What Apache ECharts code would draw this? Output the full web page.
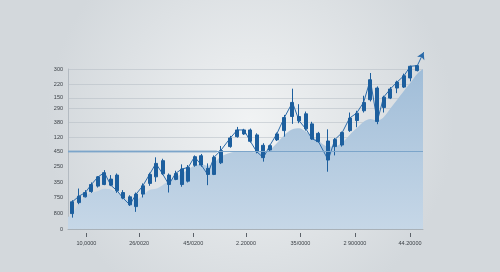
<!DOCTYPE html>
<html>
<head>
<meta charset="utf-8">
<script src="https://cdn.jsdelivr.net/npm/echarts@6/dist/echarts.min.js"></script>
<style>
html,body{margin:0;padding:0;}
#chart{width:500px;height:272px;}
</style>
</head>
<body>
<div id="chart"></div>
<script>
// ---- data ----
const candleDay = [0.64,1.61,2.54,3.42,4.40,5.33,6.26,7.19,8.07,9.05,9.98,10.96,11.94,12.87,13.85,14.77,15.75,16.68,17.61,18.54,19.52,20.45,21.38,22.36,23.78,24.80,25.78,26.71,27.64,28.62,29.55,30.58,31.70,32.88,33.86,34.83,35.76,36.69,38.11,39.09,40.17,41.24,42.27,43.30,44.28,45.30,46.23,47.21,48.19,49.22,50.15,51.17];
const openVals  = [96,165,201,234,268,278,312,337,228,201,140,218,285,326,427,337,310,278,299,398,458,379,341,414,515,577,594,619,588,523,494,557,615,703,703,720,657,598,550,515,525,615,678,739,808,881,759,818,881,887,944,990];
const closeVals = [170,205,228,278,326,352,274,239,193,151,218,270,341,410,345,278,347,375,385,452,400,341,448,490,569,619,619,548,483,446,521,594,697,791,676,626,563,546,431,559,603,693,724,791,933,672,824,875,918,958,1017,1021];
const lowVals   = [71,155,197,226,259,274,268,226,186,144,107,197,270,295,337,228,305,264,291,389,389,274,337,406,508,571,588,540,473,421,487,550,577,657,661,615,557,540,358,460,515,607,636,728,797,655,728,812,849,881,923,985];
const highVals  = [180,253,243,291,331,368,337,347,243,211,228,285,352,448,439,347,364,404,400,460,469,410,460,519,582,638,626,628,598,536,527,603,713,877,780,734,670,607,623,569,609,728,739,833,975,891,833,887,927,971,1021,1025];

const areaDay  = [0,0.64,1.61,2.54,3.42,4.40,5.33,6.26,7.19,8.07,9.05,9.98,10.96,11.94,12.87,13.85,14.77,15.75,16.68,17.61,18.54,19.52,20.45,21.38,22.36,23.78,24.80,25.78,26.71,27.64,28.62,29.55,30.58,31.70,32.88,33.86,34.83,35.76,36.69,38.11,39.09,40.17,41.24,42.27,43.30,44.28,45.30,46.23,47.21,48.19,49.22,50.15,51.17,52];
const areaVals = [75,96,163,205,226,238,251,247,230,201,176,180,211,243,251,274,301,322,347,374,397,406,395,414,452,477,483,483,481,479,479,494,536,588,623,630,609,577,552,515,515,540,588,630,671,688,678,699,753,807,864,914,971,1000];

const arrowDay = 52.1;
const arrowValue = 1105;

const refLineValue = 487;
const refBandEndDay = 21.8;

const yTickValues = [0,94,195,293,391,487,571,665,753,820,906,1000];
const yTickLabels = ['0','800','750','350','250','450','120','380','290','150','220','300'];

const xTickValues = [2.69,10.42,18.35,26.08,34.05,42.03,50.10];
const xTickLabels = ['10,0000','26/0020','45/0200','2.20000','35/0000','2 900000','44.20000'];

// ---- chart ----
const candleData = candleDay.map((d, i) => [d, openVals[i], closeVals[i], lowVals[i], highVals[i]]);
const areaData = areaDay.map((d, i) => [d, areaVals[i]]);
const lineData = candleDay.map((d, i) => [d, closeVals[i]]);
lineData.push({ value: [arrowDay, arrowValue], symbol: 'arrow', symbolSize: [6, 7], symbolRotate: -25 });

// split lines only above the reference line (lower ones sit under the area)
const splitColors = yTickValues.map(v => v > refLineValue ? 'rgba(178,186,194,0.5)' : 'rgba(0,0,0,0)');

const blue = '#1d5f9e';
const chart = echarts.init(document.getElementById('chart'), null, { renderer: 'canvas' });
chart.setOption({
  animation: false,
  backgroundColor: {
    type: 'radial', x: 0.5, y: 0.45, r: 0.75,
    colorStops: [{ offset: 0, color: '#f1f3f4' }, { offset: 1, color: '#d3d8dc' }]
  },
  grid: { left: 68, right: 77, top: 69, bottom: 43, containLabel: false, outerBoundsMode: 'none' },
  xAxis: [{
    type: 'value', min: 0, max: 52, position: 'bottom',
    axisLine: { show: true, lineStyle: { color: '#a9b1b8', width: 1 } },
    axisTick: { show: false },
    axisLabel: { show: false },
    splitLine: { show: false }
  }, {
    type: 'value', min: 0, max: 52, position: 'bottom', offset: 4,
    axisLine: { show: false },
    axisTick: { show: true, length: 4, customValues: xTickValues, lineStyle: { color: '#5b6168', width: 1 } },
    axisLabel: {
      show: true, customValues: xTickValues, margin: 7,
      fontSize: 5.5, color: '#3b4046', fontFamily: 'Liberation Sans',
      formatter: v => { const k = xTickValues.indexOf(v); return k >= 0 ? xTickLabels[k] : ''; }
    },
    splitLine: { show: false }
  }],
  yAxis: {
    type: 'value', min: 0, max: 1000,
    axisLine: { show: true, lineStyle: { color: '#b3bac1', width: 1 } },
    axisTick: { show: false, customValues: yTickValues },
    axisLabel: {
      show: true, customValues: yTickValues, margin: 5,
      fontSize: 5.5, color: '#3b4046', fontFamily: 'Liberation Sans',
      formatter: v => { const k = yTickValues.indexOf(v); return k >= 0 ? yTickLabels[k] : ''; }
    },
    splitLine: { show: true, lineStyle: { color: splitColors, width: 1 } }
  },
  series: [{
    type: 'line', xAxisIndex: 0, data: areaData, smooth: 0.3, symbol: 'none', z: 1,
    lineStyle: { width: 0 },
    areaStyle: {
      opacity: 1,
      color: { type: 'linear', x: 0, y: 0, x2: 0, y2: 1,
        colorStops: [{ offset: 0, color: '#a0bdd8' }, { offset: 1, color: '#c6d7e7' }] }
    },
    markLine: {
      silent: true, symbol: ['none', 'none'], label: { show: false },
      lineStyle: { color: '#7ca5ca', width: 1.1, type: 'solid' },
      data: [
        { yAxis: refLineValue },
        [{ coord: [0, refLineValue] }, { coord: [refBandEndDay, refLineValue], lineStyle: { color: 'rgba(124,165,202,0.55)', width: 2.6 } }]
      ]
    }
  }, {
    type: 'line', xAxisIndex: 0, data: lineData, symbol: 'none', showSymbol: true, clip: false, z: 3,
    lineStyle: { color: '#2a6aa9', width: 1 },
    itemStyle: { color: '#2a6aa9' }
  }, {
    type: 'candlestick', xAxisIndex: 0, data: candleData, clip: false, barWidth: 3.5, z: 4,
    itemStyle: { color: blue, color0: blue, borderColor: blue, borderColor0: blue, borderWidth: 1 }
  }]
});
</script>
</body>
</html>
